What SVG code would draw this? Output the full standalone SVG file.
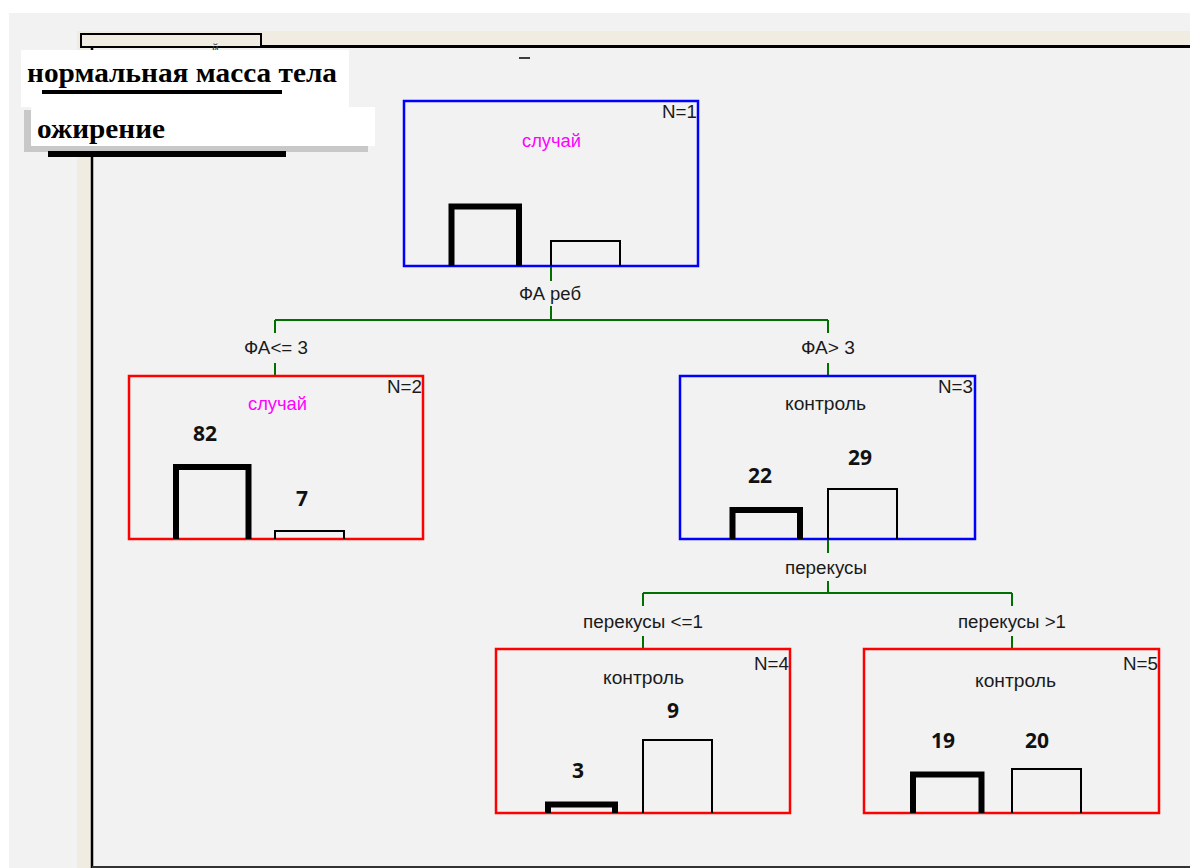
<svg xmlns="http://www.w3.org/2000/svg" width="1190" height="868" viewBox="0 0 1190 868">
<style>
.lbl{font-family:"Liberation Sans",Arial,sans-serif;font-size:18px;fill:#1a1a1a;text-anchor:middle}
.nn{font-family:"Liberation Sans",Arial,sans-serif;font-size:18px;fill:#1a1a1a;text-anchor:end}
.mag{fill:#ff00ff}
.num{font-family:"Open Sans","DejaVu Sans",sans-serif;font-size:21px;font-weight:bold;fill:#111;text-anchor:middle}
.leg{font-family:"Liberation Serif","Times New Roman",serif;font-size:28px;font-weight:bold;fill:#000}
.blue{fill:none;stroke:#0000ff;stroke-width:2.5}
.red{fill:none;stroke:#ff0000;stroke-width:2.5}
.b1{fill:none;stroke:#000;stroke-width:6}
.b2{fill:none;stroke:#000;stroke-width:2}
.con{fill:none;stroke:#007000;stroke-width:2}
</style>
<rect x="0" y="0" width="1190" height="868" fill="#ffffff"/>
<rect x="9" y="13" width="1181" height="855" fill="#f2f2f2"/>
<rect x="77" y="31" width="1113" height="15" fill="#f0ece2"/>
<rect x="77" y="31" width="14" height="837" fill="#f0ece2"/>
<rect x="81" y="34" width="180" height="13" fill="#f0ece2" stroke="#000" stroke-width="2"/>
<line x1="260" y1="46.5" x2="1190" y2="46.5" stroke="#000" stroke-width="3"/>
<line x1="92" y1="46" x2="92" y2="868" stroke="#000" stroke-width="2.5"/>
<line x1="92" y1="867" x2="1190" y2="867" stroke="#333" stroke-width="2"/>
<text x="212" y="53" font-family="Liberation Sans,Arial,sans-serif" font-size="12" fill="#333">й</text>
<line x1="519" y1="58" x2="530" y2="58" stroke="#000" stroke-width="1.5"/>
<g id="legend">
<rect x="21" y="50" width="328" height="57" fill="#ffffff"/>
<rect x="24" y="110" width="344" height="42" fill="#c8c8c8"/>
<rect x="31" y="107" width="344" height="39" fill="#ffffff"/>
<text class="leg" x="27" y="82" textLength="310" lengthAdjust="spacingAndGlyphs">нормальная масса тела</text>
<rect x="42" y="90" width="240" height="4" fill="#000"/>
<text class="leg" x="37" y="138" textLength="128" lengthAdjust="spacingAndGlyphs">ожирение</text>
<rect x="48" y="151" width="238" height="6" fill="#000"/>
</g>
<g id="connectors">
<path class="con" d="M551 267V281M551 306V320M275 320H828M275 320V333M828 320V333M275 363V376M828 363V376"/>
<path class="con" d="M828 539V553M828 581V593M643 593H1012M643 593V606M1012 593V606M643 636V649M1012 636V649"/>
<text class="lbl" x="550" y="300" textLength="62" lengthAdjust="spacingAndGlyphs">ФА реб</text>
<text class="lbl" x="276" y="354" textLength="64" lengthAdjust="spacingAndGlyphs">ФА&lt;= 3</text>
<text class="lbl" x="828" y="354" textLength="54" lengthAdjust="spacingAndGlyphs">ФА&gt; 3</text>
<text class="lbl" x="826" y="574" textLength="82" lengthAdjust="spacingAndGlyphs">перекусы</text>
<text class="lbl" x="643" y="628" textLength="120" lengthAdjust="spacingAndGlyphs">перекусы &lt;=1</text>
<text class="lbl" x="1012" y="628" textLength="108" lengthAdjust="spacingAndGlyphs">перекусы &gt;1</text>
</g>
<g id="node1">
<rect class="blue" x="404" y="101" width="294" height="165"/>
<text class="nn" x="697" y="118" textLength="35" lengthAdjust="spacingAndGlyphs">N=1</text>
<text class="lbl mag" x="551.5" y="147" textLength="59" lengthAdjust="spacingAndGlyphs">случай</text>
<path class="b1" d="M451.5 266V206.5H519V266"/>
<path class="b2" d="M551 266V241H620V266"/>
</g>
<g id="node2">
<rect class="red" x="129" y="376" width="294" height="163"/>
<text class="nn" x="422" y="393" textLength="35" lengthAdjust="spacingAndGlyphs">N=2</text>
<text class="lbl mag" x="277.5" y="410" textLength="59" lengthAdjust="spacingAndGlyphs">случай</text>
<text class="num" x="205" y="441">82</text>
<text class="num" x="302" y="506">7</text>
<path class="b1" d="M176 539V467H248.5V539"/>
<path class="b2" d="M275 539V531H344V539"/>
</g>
<g id="node3">
<rect class="blue" x="680" y="376" width="295" height="163"/>
<text class="nn" x="973" y="393" textLength="35" lengthAdjust="spacingAndGlyphs">N=3</text>
<text class="lbl" x="825.5" y="410" textLength="81" lengthAdjust="spacingAndGlyphs">контроль</text>
<text class="num" x="760" y="483">22</text>
<text class="num" x="860" y="465">29</text>
<path class="b1" d="M732.5 539V510H800V539"/>
<path class="b2" d="M828 539V489H897V539"/>
</g>
<g id="node4">
<rect class="red" x="496" y="649" width="294" height="164"/>
<text class="nn" x="789" y="670" textLength="35" lengthAdjust="spacingAndGlyphs">N=4</text>
<text class="lbl" x="643.5" y="684" textLength="81" lengthAdjust="spacingAndGlyphs">контроль</text>
<text class="num" x="673" y="718">9</text>
<text class="num" x="578" y="778">3</text>
<path class="b1" d="M548 813V804.5H615V813"/>
<path class="b2" d="M643 813V740H712V813"/>
</g>
<g id="node5">
<rect class="red" x="864" y="649" width="295" height="164"/>
<text class="nn" x="1158" y="670" textLength="35" lengthAdjust="spacingAndGlyphs">N=5</text>
<text class="lbl" x="1015.5" y="687" textLength="81" lengthAdjust="spacingAndGlyphs">контроль</text>
<text class="num" x="943" y="748">19</text>
<text class="num" x="1037" y="748">20</text>
<path class="b1" d="M913 813V774.5H981.5V813"/>
<path class="b2" d="M1012 813V769H1081V813"/>
</g>
</svg>
